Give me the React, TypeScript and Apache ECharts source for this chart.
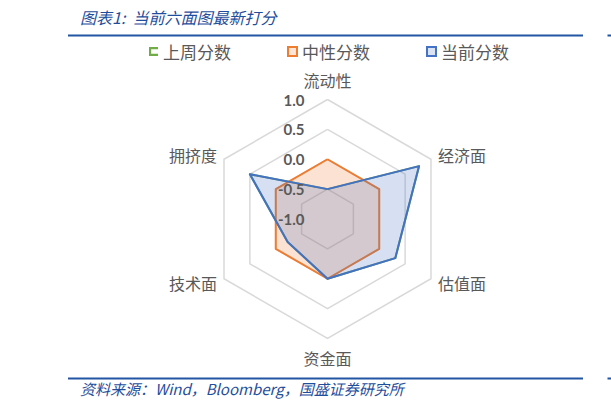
import React, { useEffect, useRef } from "react";
import * as echarts from "echarts";

// Indicator order as laid out by the radar (starting at top, counter-clockwise)
const categories = ["流动性", "拥挤度", "技术面", "资金面", "估值面", "经济面"];
const lastWeek = [-0.5, 0.5, -0.23, 0.0, 0.31, 0.77];
const neutral = [0, 0, 0, 0, 0, 0];
const current = [-0.5, 0.5, -0.23, 0.0, 0.31, 0.77];
const seriesNames = ["上周分数", "中性分数", "当前分数"];
const axisMin = -1;
const axisMax = 1;

const CJK = '"Noto Sans CJK SC", "Noto Sans", sans-serif';

export default function App() {
  const ref = useRef<HTMLDivElement>(null);
  useEffect(() => {
    if (!ref.current) return;
    const chart = echarts.init(ref.current, null, { renderer: "svg" });
    const center = [327.5, 219];
    const radius = 119.5;
    const nameStyle = { color: "#595959", fontSize: 16, fontFamily: CJK };
    chart.setOption({
      animation: false,
      backgroundColor: "#ffffff",
      graphic: [
        {
          type: "text",
          left: 80,
          top: 9,
          style: {
            text: "图表1:  当前六面图最新打分",
            fill: "#1F4E9C",
            font: `italic 16px ${CJK}`,
          },
        },
        { type: "line", shape: { x1: 68, y1: 35.5, x2: 583, y2: 35.5 }, style: { stroke: "#2255A4", lineWidth: 2 } },
        { type: "line", shape: { x1: 607.5, y1: 35.5, x2: 611, y2: 35.5 }, style: { stroke: "#2255A4", lineWidth: 2 } },
        { type: "line", shape: { x1: 68, y1: 378.5, x2: 583, y2: 378.5 }, style: { stroke: "#2255A4", lineWidth: 2 } },
        { type: "line", shape: { x1: 607.5, y1: 378.5, x2: 611, y2: 378.5 }, style: { stroke: "#2255A4", lineWidth: 2 } },
        {
          type: "text",
          left: 80,
          top: 381,
          style: {
            text: "资料来源：Wind，Bloomberg，国盛证券研究所",
            fill: "#1F4E9C",
            font: `italic 15px ${CJK}`,
          },
        },
      ],
      legend: {
        left: 144,
        top: 38,
        itemWidth: 9,
        itemHeight: 9,
        itemGap: 56,
        textStyle: { color: "#595959", fontSize: 17, fontFamily: CJK },
        data: [
          {
            name: seriesNames[0],
            icon: "path://M0,0 L10,0 L10,2.4 L2.4,2.4 L2.4,7.6 L10,7.6 L10,10 L0,10 Z",
            itemStyle: { color: "#70AD47", borderWidth: 0 },
          },
          {
            name: seriesNames[1],
            icon: "rect",
            itemStyle: { color: "#FBE5D6", borderColor: "#ED7D31", borderWidth: 2 },
          },
          {
            name: seriesNames[2],
            icon: "rect",
            itemStyle: { color: "#DAE3F3", borderColor: "#4472C4", borderWidth: 2 },
          },
        ],
      },
      radar: [
        {
          center,
          radius,
          startAngle: 90,
          shape: "polygon",
          splitNumber: 4,
          indicator: categories.map((name) => ({ name, min: axisMin, max: axisMax })),
          axisName: {
            ...nameStyle,
            formatter: (name: string) =>
              name === categories[0]
                ? `{t|${name}}`
                : name === categories[3]
                ? `{b|${name}}`
                : name,
            rich: {
              t: { ...nameStyle, padding: [0, 0, 4, 0] },
              b: { ...nameStyle, padding: [3, 0, 0, 0] },
            },
          },
          nameGap: 8,
          splitLine: { lineStyle: { color: "#D9D9D9", width: 1.5 } },
          splitArea: { show: false },
          axisLine: { show: false },
          axisTick: { show: false },
          axisLabel: { show: false },
        },
        {
          center,
          radius,
          startAngle: 90,
          shape: "polygon",
          splitNumber: 4,
          indicator: [{ name: "", min: axisMin, max: axisMax }],
          axisName: { show: false },
          splitLine: { show: false },
          splitArea: { show: false },
          axisLine: { show: false },
          axisTick: { show: false },
          axisLabel: {
            show: true,
            margin: 23,
            color: "#595959",
            fontSize: 15,
            fontWeight: "bold",
            fontFamily: "Lato, sans-serif",
            formatter: (v: number) => Number(v).toFixed(1),
          },
          z: 10,
        },
      ],
      series: [
        {
          name: seriesNames[0],
          type: "radar",
          radarIndex: 0,
          symbol: "none",
          z: 1,
          lineStyle: { color: "#70AD47", width: 2 },
          itemStyle: { color: "#70AD47" },
          data: [{ value: lastWeek, name: seriesNames[0] }],
        },
        {
          name: seriesNames[1],
          type: "radar",
          radarIndex: 0,
          symbol: "none",
          z: 2,
          lineStyle: { color: "#ED7D31", width: 2 },
          itemStyle: { color: "#ED7D31" },
          areaStyle: { color: "#ED7D31", opacity: 0.22 },
          data: [{ value: neutral, name: seriesNames[1] }],
        },
        {
          name: seriesNames[2],
          type: "radar",
          radarIndex: 0,
          symbol: "none",
          z: 3,
          lineStyle: { color: "#4472C4", width: 2 },
          itemStyle: { color: "#4472C4" },
          areaStyle: { color: "#4472C4", opacity: 0.22 },
          data: [{ value: current, name: seriesNames[2] }],
        },
      ],
    });
    return () => chart.dispose();
  }, []);
  return (
    <div
      ref={ref}
      style={{ position: "absolute", left: 0, top: 0, width: 611, height: 410 }}
    />
  );
}
